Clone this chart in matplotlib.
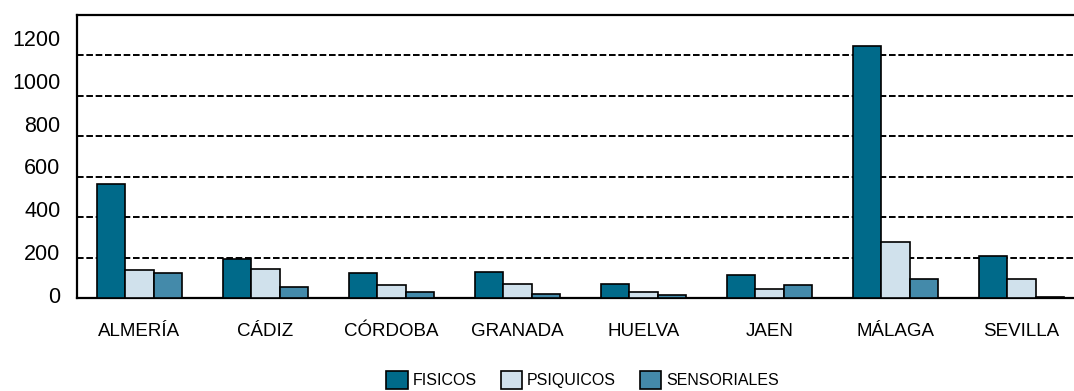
import matplotlib
matplotlib.use("Agg")
import matplotlib.pyplot as plt
import numpy as np

categories = ["ALMERÍA", "CÁDIZ", "CÓRDOBA", "GRANADA", "HUELVA", "JAEN", "MÁLAGA", "SEVILLA"]
fisicos = [563, 193, 125, 131, 68, 113, 1246, 209]
psiquicos = [138, 143, 63, 68, 28, 46, 277, 94]
sensoriales = [123, 54, 31, 21, 16, 66, 94, 6]
series_names = ["FISICOS", "PSIQUICOS", "SENSORIALES"]
colors = ["#006a8a", "#d0e1ec", "#448aaa"]
grid_values = [200, 400, 600, 800, 1000, 1200]
ytick_labels = [0, 200, 400, 600, 800, 1000, 1200]

plt.rcParams['font.family'] = ['Liberation Sans', 'DejaVu Sans']

fig = plt.figure(figsize=(10.74, 3.91), dpi=100)
pos = [76.5/1074, 93/391, 1008/1074, 283/391]
ax = fig.add_axes(pos)

x = np.arange(len(categories))
w = 0.225
for i, (vals, name, c) in enumerate(zip([fisicos, psiquicos, sensoriales], series_names, colors)):
    ax.bar(x + (i - 1) * w, vals, width=w, color=c, edgecolor="black", linewidth=1.2,
           label=name, zorder=3)

ax.set_xlim(-0.5, len(categories) - 0.5)
ax.set_ylim(0, 1400)
for g in grid_values:
    ax.axhline(g, color="black", linewidth=1.4, linestyle=(0, (3.4, 1.4)), zorder=1)

ax.set_yticks([])
ax.set_xticks(x)
ax.set_xticklabels(categories, fontsize=13.5)
ax.tick_params(axis="x", length=0, pad=18)
ax.spines["right"].set_visible(False)
for s in ["left", "bottom", "top"]:
    ax.spines[s].set_linewidth(1.6)
    ax.spines[s].set_color("black")

# y tick labels axis (labels are offset from gridlines in the original)
ax2 = fig.add_axes(pos, frameon=False)
ax2.set_ylim(-14, 1307)
ax2.set_yticks(ytick_labels)
ax2.set_yticklabels([str(v) for v in ytick_labels], fontsize=15.5)
ax2.tick_params(axis="y", length=0, pad=11.5)
ax2.set_xticks([])
ax2.patch.set_visible(False)

handles, labels = ax.get_legend_handles_labels()
fig.legend(handles, labels, loc="center", bbox_to_anchor=(582.5/1074, 11/391), ncol=3,
           frameon=False, fontsize=11.5, handlelength=1.35, handleheight=1.45,
           handletextpad=0.3, columnspacing=1.5, borderaxespad=0, borderpad=0)

fig.savefig("out.png", dpi=100)
